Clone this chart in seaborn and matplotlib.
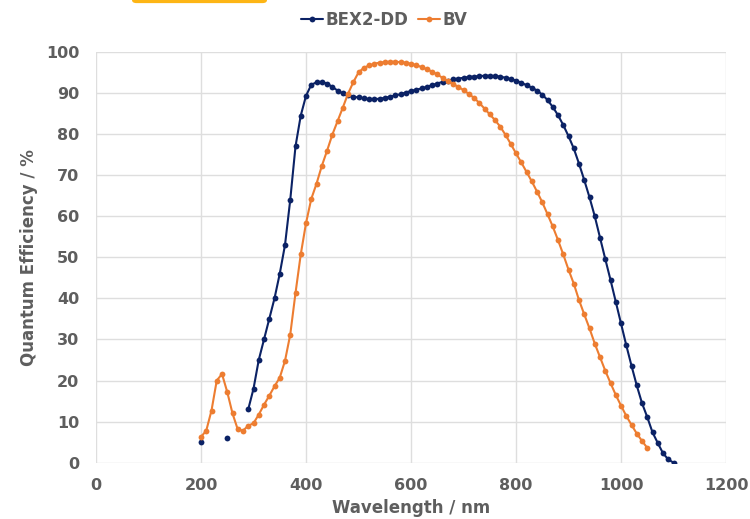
import numpy as np
import pandas as pd
import matplotlib
matplotlib.use("Agg")
import matplotlib.pyplot as plt
from matplotlib.patches import FancyBboxPatch
import seaborn as sns

# -------------------------------
# Data
# -------------------------------
bex_wavelength = np.arange(200, 1110, 10)
bex_qe = [
    5.0, np.nan, np.nan, np.nan, np.nan, 6.0, np.nan, np.nan, np.nan, 13.0,
    18.0, 25.0, 30.0, 35.0, 40.0, 46.0, 53.0, 64.0, 77.0, 84.5,
    89.3, 92.0, 92.6, 92.7, 92.3, 91.5, 90.6, 89.9, 89.4, 89.1,
    88.9, 88.7, 88.5, 88.5, 88.6, 88.8, 89.1, 89.4, 89.7, 90.1,
    90.5, 90.8, 91.1, 91.5, 91.9, 92.3, 92.7, 93.0, 93.3, 93.5,
    93.7, 93.9, 94.0, 94.1, 94.2, 94.2, 94.1, 94.0, 93.7, 93.4,
    93.0, 92.5, 91.9, 91.3, 90.6, 89.6, 88.3, 86.6, 84.6, 82.2,
    79.5, 76.5, 72.8, 68.8, 64.6, 60.0, 54.8, 49.6, 44.5, 39.2,
    33.9, 28.6, 23.6, 18.8, 14.5, 11.1, 7.4, 4.8, 2.3, 0.8,
    0.0,
]

bv_wavelength = np.arange(200, 1060, 10)
bv_qe = [
    6.3, 7.8, 12.7, 20.0, 21.6, 17.2, 12.0, 8.1, 7.8, 9.0,
    9.6, 11.7, 14.1, 16.3, 18.6, 20.7, 24.8, 31.2, 41.3, 50.7,
    58.3, 64.2, 67.9, 72.2, 75.9, 79.8, 83.1, 86.4, 89.8, 92.6,
    95.0, 96.1, 96.7, 97.1, 97.4, 97.5, 97.6, 97.6, 97.5, 97.4,
    97.1, 96.8, 96.3, 95.8, 95.2, 94.5, 93.7, 92.9, 92.2, 91.5,
    90.7, 89.8, 88.8, 87.6, 86.2, 84.8, 83.4, 81.8, 79.8, 77.6,
    75.3, 73.1, 70.8, 68.5, 66.0, 63.4, 60.5, 57.5, 54.2, 50.7,
    47.0, 43.6, 39.6, 36.1, 32.7, 29.0, 25.7, 22.4, 19.4, 16.5,
    13.9, 11.4, 9.2, 7.1, 5.3, 3.6,
]

series_names = ["BEX2-DD", "BV"]
series_colors = ["#0B2265", "#ED7D31"]

x_ticks = [0, 200, 400, 600, 800, 1000, 1200]
y_ticks = [0, 10, 20, 30, 40, 50, 60, 70, 80, 90, 100]

# -------------------------------
# Long table, gaps split into segments
# -------------------------------
frames = []
for name, wl, qe in [(series_names[0], bex_wavelength, bex_qe),
                     (series_names[1], bv_wavelength, bv_qe)]:
    qe = np.array(qe, dtype=float)
    seg = np.cumsum(np.isnan(qe))
    d = pd.DataFrame({"wavelength": wl, "qe": qe, "sensor": name, "seg": seg})
    frames.append(d.dropna())
df = pd.concat(frames, ignore_index=True)

# -------------------------------
# Plot
# -------------------------------
sns.set_style("whitegrid", {"grid.color": "#dedede", "axes.edgecolor": "white"})
plt.rcParams["font.family"] = ["DejaVu Sans"]

text_color = "#5e5e5e"
fs = 12
fig = plt.figure(figsize=(7.5, 5.19), dpi=100)
ax = fig.add_axes([0.128, 0.1085, 0.84, 0.7915])

sns.lineplot(
    data=df, x="wavelength", y="qe", hue="sensor", units="seg",
    estimator=None, palette=dict(zip(series_names, series_colors)),
    hue_order=series_names, marker="o", markersize=4.2,
    markeredgewidth=0, linewidth=1.5, sort=True, ax=ax,
)

ax.set_xlim(0, 1200)
ax.set_ylim(0, 100)
ax.set_xticks(x_ticks)
ax.set_yticks(y_ticks)
ax.tick_params(axis="x", length=0, pad=11, labelsize=11.5, labelcolor=text_color)
ax.tick_params(axis="y", length=0, pad=12, labelsize=11.5, labelcolor=text_color)
for lbl in ax.get_xticklabels() + ax.get_yticklabels():
    lbl.set_fontweight("bold")
for s in ax.spines.values():
    s.set_visible(False)
ax.set_axisbelow(True)
ax.grid(True, which="major", axis="both", color="#dedede", linewidth=1)

ax.set_xlabel("Wavelength / nm", fontsize=fs, fontweight="bold",
              color=text_color, labelpad=4)
ax.set_ylabel("Quantum Efficiency / %", fontsize=fs, fontweight="bold",
              color=text_color, labelpad=6)

sns.move_legend(ax, "center", bbox_to_anchor=(0.457, 1.078), ncol=2,
                frameon=False, title=None, fontsize=fs,
                handlelength=1.3, columnspacing=0.6, handletextpad=0.15)
for t in ax.get_legend().get_texts():
    t.set_color(text_color)
    t.set_fontweight("bold")

# cropped badge at the very top
badge = FancyBboxPatch((0.176, 0.994), 0.18, 0.03,
                       boxstyle="round,pad=0,rounding_size=0.006",
                       transform=fig.transFigure, facecolor="#FDB515",
                       edgecolor="none", clip_on=False)
fig.patches.append(badge)

plt.savefig("out.png", dpi=100)
